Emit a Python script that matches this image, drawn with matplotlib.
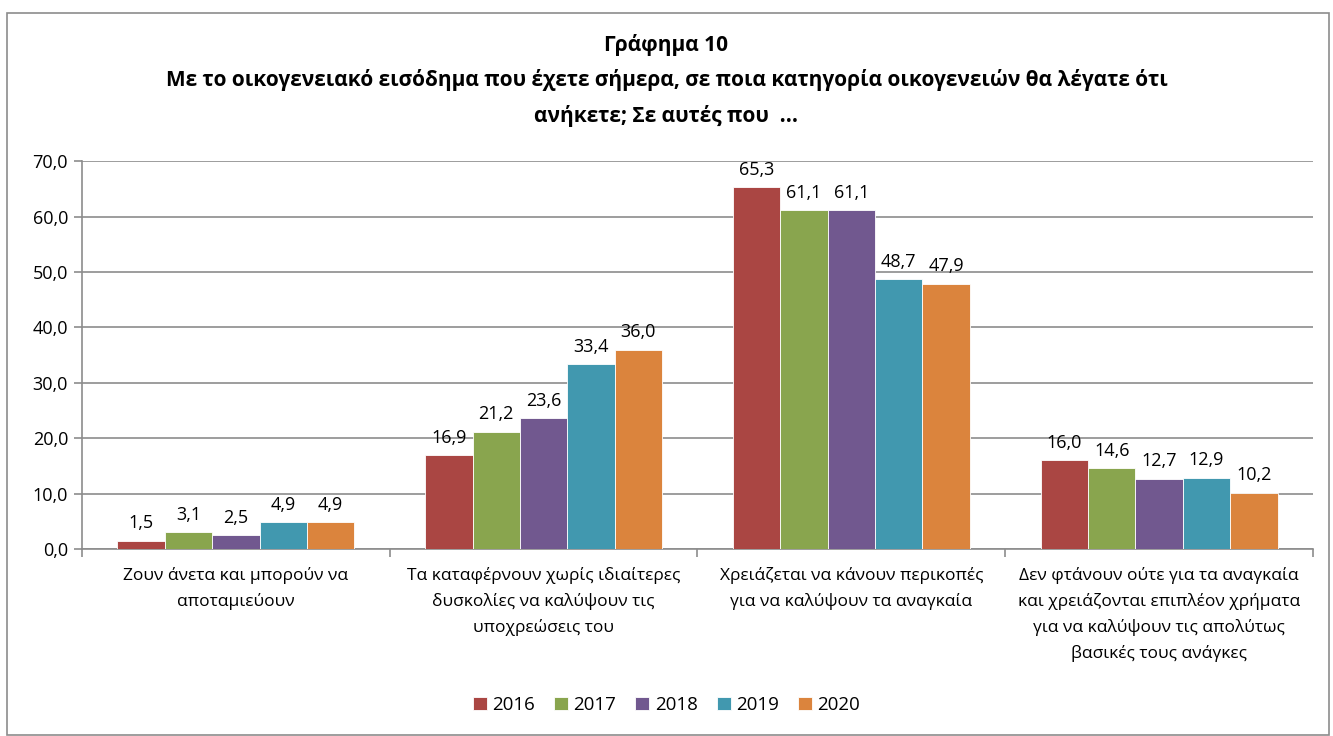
import matplotlib
matplotlib.use('Agg')
import matplotlib.pyplot as plt
from matplotlib.patches import Rectangle
import numpy as np

plt.rcParams.update({'font.family': ['Open Sans', 'DejaVu Sans']})

# data
categories = ['Ζουν άνετα και μπορούν να\nαποταμιεύουν',
              'Τα καταφέρνουν χωρίς ιδιαίτερες\nδυσκολίες να καλύψουν τις\nυποχρεώσεις του',
              'Χρειάζεται να κάνουν περικοπές\nγια να καλύψουν τα αναγκαία',
              'Δεν φτάνουν ούτε για τα αναγκαία\nκαι χρειάζονται επιπλέον χρήματα\nγια να καλύψουν τις απολύτως\nβασικές τους ανάγκες']
years = ['2016', '2017', '2018', '2019', '2020']
v2016 = [1.5, 16.9, 65.3, 16.0]
v2017 = [3.1, 21.2, 61.1, 14.6]
v2018 = [2.5, 23.6, 61.1, 12.7]
v2019 = [4.9, 33.4, 48.7, 12.9]
v2020 = [4.9, 36.0, 47.9, 10.2]
series = [v2016, v2017, v2018, v2019, v2020]
colors = ['#AA4643', '#89A54E', '#71588F', '#4198AF', '#DB843D']

title = ('Γράφημα 10\nΜε το οικογενειακό εισόδημα που έχετε σήμερα, σε ποια κατηγορία οικογενειών θα λέγατε ότι\n'
         'ανήκετε; Σε αυτές που  ...')

fig = plt.figure(figsize=(13.33, 7.36), dpi=100)
ax = fig.add_axes([0.0615, 0.254, 0.9235, 0.527])

# outer chart border
fig.patches.append(Rectangle((7/1333, 0.002), 1322/1333, 1 - 13/736 - 0.002, transform=fig.transFigure,
                             fill=False, edgecolor='#8c8c8c', lw=1.2))

x = np.arange(len(categories))
w = 0.77/5
for i, vals in enumerate(series):
    pos = x - 0.385 + w/2 + i*w
    bars = ax.bar(pos, vals, w, color=colors[i], label=years[i], edgecolor='white', linewidth=0.6, zorder=3)
    for b, v in zip(bars, vals):
        ax.annotate(('%.1f' % v).replace('.', ','), (b.get_x() + b.get_width()/2, v),
                    xytext=(0, 6), textcoords='offset points', ha='center', va='bottom', fontsize=13)

ax.set_xlim(-0.5, 3.5)
ax.set_ylim(0, 70)
ax.set_yticks(np.arange(0, 71, 10))
ax.set_yticklabels([('%.1f' % t).replace('.', ',') for t in np.arange(0, 71, 10)], fontsize=13)
ax.yaxis.grid(True, color='#8c8c8c', lw=1.2, zorder=0)
ax.set_axisbelow(True)

ax.set_xticks(np.arange(-0.5, 3.6, 1))
ax.set_xticklabels([])
ax.set_xticks(x, minor=True)
ax.set_xticklabels(categories, minor=True, fontsize=12.5, linespacing=1.7)
ax.tick_params(axis='x', which='major', length=6, color='#8c8c8c', width=1.2)
ax.tick_params(axis='x', which='minor', length=0, pad=13)
ax.tick_params(axis='y', length=6, color='#8c8c8c', width=1.2, pad=4)

for s in ['top', 'right']:
    ax.spines[s].set_visible(False)
for s in ['left', 'bottom']:
    ax.spines[s].set_color('#8c8c8c')
    ax.spines[s].set_linewidth(1.2)

fig.text(0.5, 1 - 34/736, title, ha='center', va='top', fontsize=15, fontweight='bold', linespacing=1.78)

fig.legend(loc='center', bbox_to_anchor=(0.5, 1 - 705/736), ncol=5, frameon=False, fontsize=13.5,
           handlelength=0.75, handleheight=0.75, handletextpad=0.3, columnspacing=1.0)

plt.savefig('out.png', dpi=100)
